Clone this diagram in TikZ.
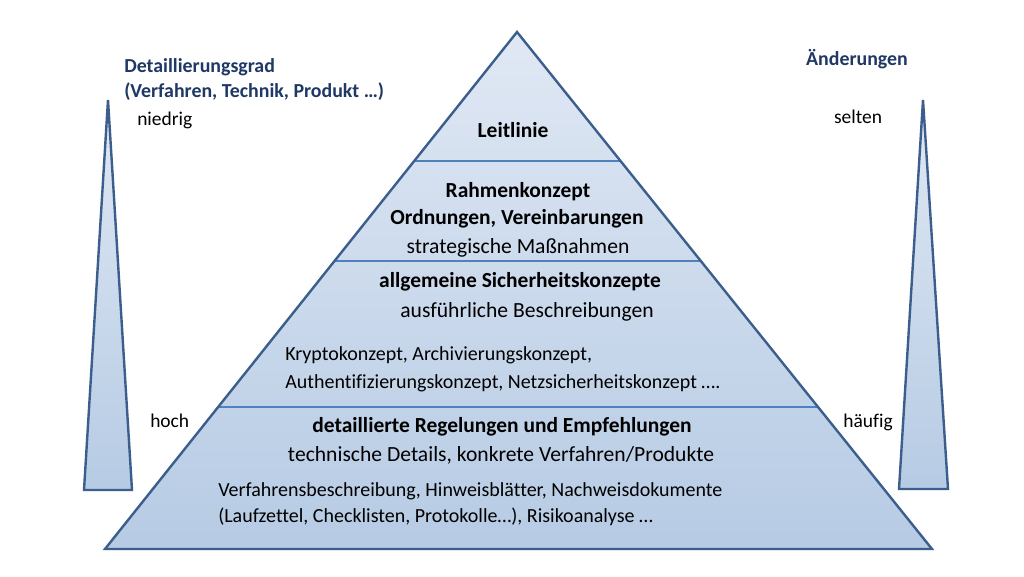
\documentclass[tikz,border=0pt]{standalone}
\usepackage{fontspec}
\setmainfont[Ligatures=NoCommon]{Carlito}
\usetikzlibrary{calc}
\definecolor{edgeblue}{RGB}{60,94,140}
\definecolor{divblue}{RGB}{79,129,189}
\definecolor{topfill}{RGB}{224,232,244}
\definecolor{botfill}{RGB}{182,203,228}
\definecolor{headblue}{RGB}{31,56,100}
\begin{document}
\begin{tikzpicture}[x=0.75pt,y=-0.75pt,
  shape outline/.style={draw=edgeblue, line width=1.8pt, line join=miter},
  divider/.style={draw=divblue, line width=1pt},
  sidetxt/.style={inner sep=0pt, text=black, font=\fontsize{14.6}{16}\selectfont},
  txt/.style={inner sep=0pt, text=black, font=\fontsize{16.2}{18}\selectfont},
  smalltxt/.style={inner sep=0pt, text=black, font=\fontsize{15}{17}\selectfont},
  boldtxt/.style={inner sep=0pt, text=black, font=\bfseries\fontsize{16.1}{18}\selectfont},
  headtxt/.style={inner sep=0pt, text=headblue, font=\bfseries\fontsize{14.9}{17}\selectfont}]
\useasboundingbox (0,0) rectangle (1024,576);
\fill[white] (0,0) rectangle (1024,576);
% pyramid
\coordinate (apex) at (517,32);
\coordinate (bl) at (105,549);
\coordinate (br) at (932,549);
\shade[top color=topfill, bottom color=botfill] (apex) -- (br) -- (bl) -- cycle;
\draw[divider] ($(apex)!0.2495!(bl)$) -- ($(apex)!0.2495!(br)$);
\draw[divider] ($(apex)!0.443!(bl)$) -- ($(apex)!0.443!(br)$);
\draw[divider] ($(apex)!0.725!(bl)$) -- ($(apex)!0.725!(br)$);
\draw[shape outline] (apex) -- (br) -- (bl) -- cycle;
% left thin triangle
\coordinate (lt) at (108,100);
\coordinate (lbl) at (84,490);
\coordinate (lbr) at (132,490);
\shade[top color=topfill, bottom color=botfill] (lt) -- (lbr) -- (lbl) -- cycle;
\draw[shape outline] (lt) -- (lbr) -- (lbl) -- cycle;
% right thin triangle
\coordinate (rt) at (923,100);
\coordinate (rbl) at (899,489);
\coordinate (rbr) at (948,489);
\shade[top color=topfill, bottom color=botfill] (rt) -- (rbr) -- (rbl) -- cycle;
\draw[shape outline] (rt) -- (rbr) -- (rbl) -- cycle;
% side labels
\node[headtxt, anchor=base west] (dg) at (124,72) {Detaillierungsgrad};
\node[headtxt, anchor=base west] (vtp) at (124,97) {(Verfahren, Technik, Produkt …)};
\node[sidetxt, anchor=base west] (nied) at (137,125) {niedrig};
\node[sidetxt, anchor=base west] (hoch) at (150,427) {hoch};
\node[headtxt, anchor=base] (aend) at (857,65) {Änderungen};
\node[sidetxt, anchor=base] (selt) at (858,123) {selten};
\node[sidetxt, anchor=base east] (haeuf) at (893,427) {häufig};
% pyramid texts
\node[boldtxt, anchor=base] (leit) at (513,137) {Leitlinie};
\node[boldtxt, anchor=base] (rahm) at (518,197) {Rahmenkonzept};
\node[boldtxt, anchor=base] (ordn) at (517,224) {Ordnungen, Vereinbarungen};
\node[txt, anchor=base] (strat) at (518,253) {strategische Maßnahmen};
\node[boldtxt, anchor=base] (allg) at (520,287) {allgemeine Sicherheitskonzepte};
\node[txt, anchor=base] (ausf) at (527,317) {ausführliche Beschreibungen};
\node[smalltxt, anchor=base west] (kryp) at (285,360) {Kryptokonzept, Archivierungskonzept,};
\node[smalltxt, anchor=base west] (auth) at (285,388) {Authentifizierungskonzept, Netzsicherheitskonzept ….};
\node[boldtxt, anchor=base] (detr) at (502,432) {detaillierte Regelungen und Empfehlungen};
\node[txt, anchor=base] (tech) at (501,461) {technische Details, konkrete Verfahren/Produkte};
\node[smalltxt, anchor=base west] (verf) at (218,496) {Verfahrensbeschreibung, Hinweisblätter, Nachweisdokumente};
\node[smalltxt, anchor=base west] (lauf) at (218,522) {(Laufzettel, Checklisten, Protokolle…), Risikoanalyse …};
\end{tikzpicture}
\end{document}
